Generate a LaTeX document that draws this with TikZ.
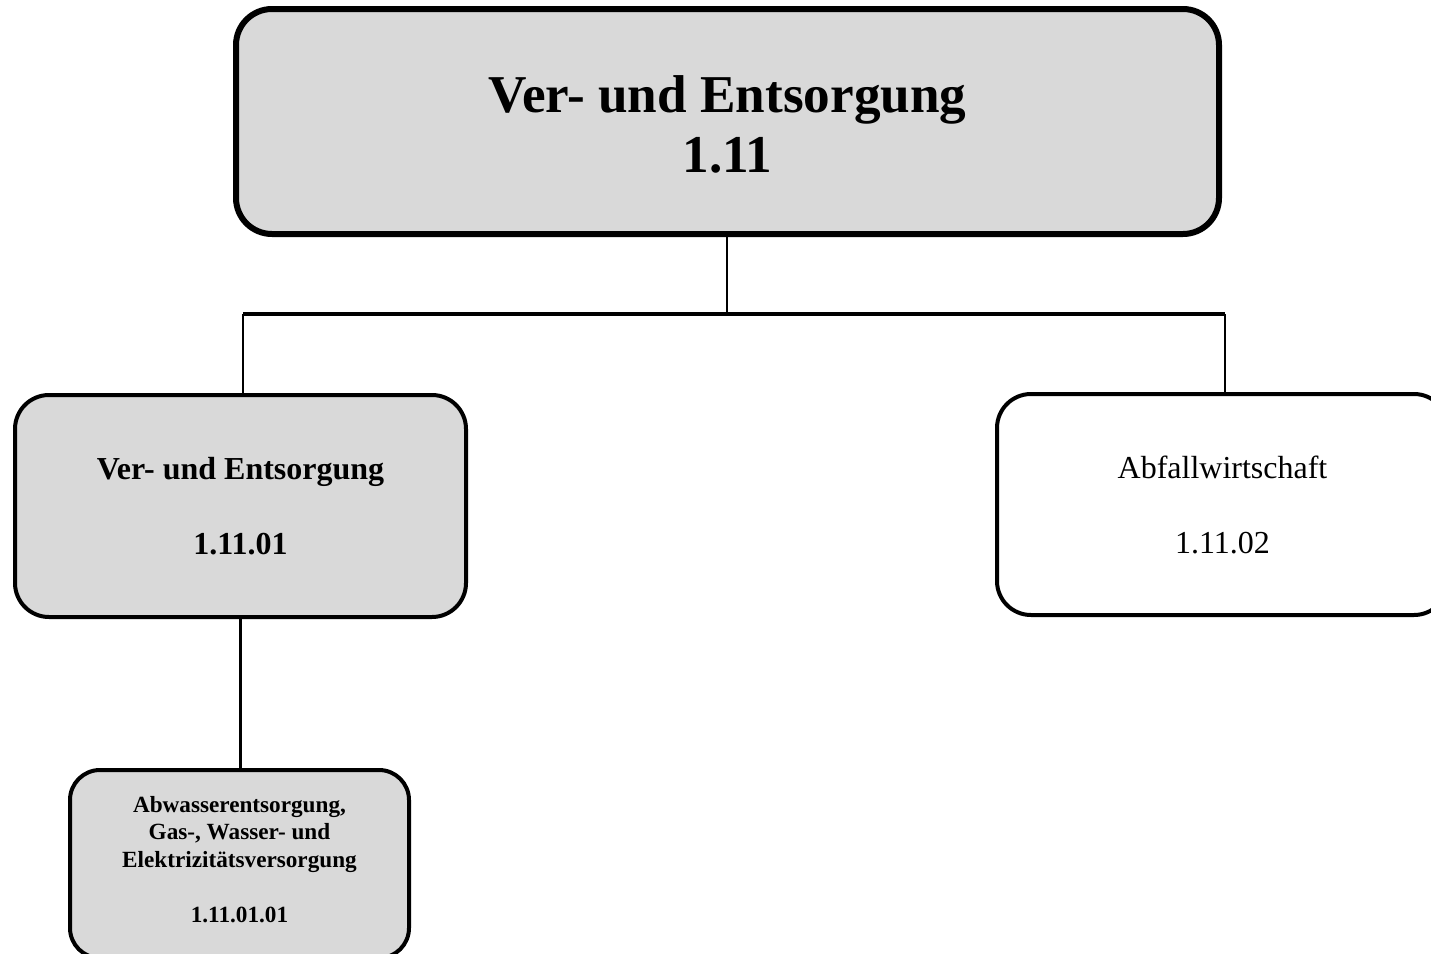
\documentclass[tikz,border=0pt]{standalone}
\usepackage{fontspec}
\setmainfont{Liberation Serif}
\definecolor{boxgray}{HTML}{D9D9D9}
\begin{document}
\begin{tikzpicture}[x=0.5pt,y=-0.5pt,
  box/.style={draw=black, rounded corners=17pt, align=center, inner sep=0pt, line width=2pt},
  conn/.style={draw=black, line width=1.3pt}]
\useasboundingbox (0,0) rectangle (1431,954);
\clip (0,0) rectangle (1431,954);
\node[box, fill=boxgray, line width=3pt, rounded corners=18pt,
      minimum width=491.5pt, minimum height=112.5pt,
      font=\fontsize{26.6}{30}\selectfont\bfseries] (top) at (727.5,121.5)
  {\rule{0pt}{21pt}Ver- und Entsorgung\\1.11};
\node[box, fill=boxgray, minimum width=225.5pt, minimum height=111pt,
      font=\fontsize{16}{37.5}\selectfont\bfseries] (left) at (240.5,506)
  {Ver- und Entsorgung\\1.11.01};
\node[box, fill=white, minimum width=225.5pt, minimum height=110.5pt,
      font=\fontsize{16}{37.5}\selectfont] (right) at (1222.5,504.5)
  {Abfallwirtschaft\\1.11.02};
\node[box, fill=boxgray, rounded corners=15pt, minimum width=169.5pt, minimum height=94pt,
      font=\fontsize{11.6}{13.75}\selectfont\bfseries] (sub) at (239.5,864)
  {Abwasserentsorgung,\\Gas-, Wasser- und\\Elektrizitätsversorgung\\[13.75pt]1.11.01.01\rule[-5pt]{0pt}{5pt}};
\coordinate (bus) at (727,314);
\coordinate (bl) at (243,314);
\coordinate (br) at (1225,314);
\draw[conn] (top.south -| bus) -- (bus);
\draw[conn, line width=1.75pt] (bl) -- (br);
\draw[conn] (bl) -- (bl |- left.north);
\draw[conn] (br) -- (br |- right.north);
\draw[conn, line width=1.5pt] (left.south) -- (sub.north -| left.south);
\end{tikzpicture}
\end{document}
